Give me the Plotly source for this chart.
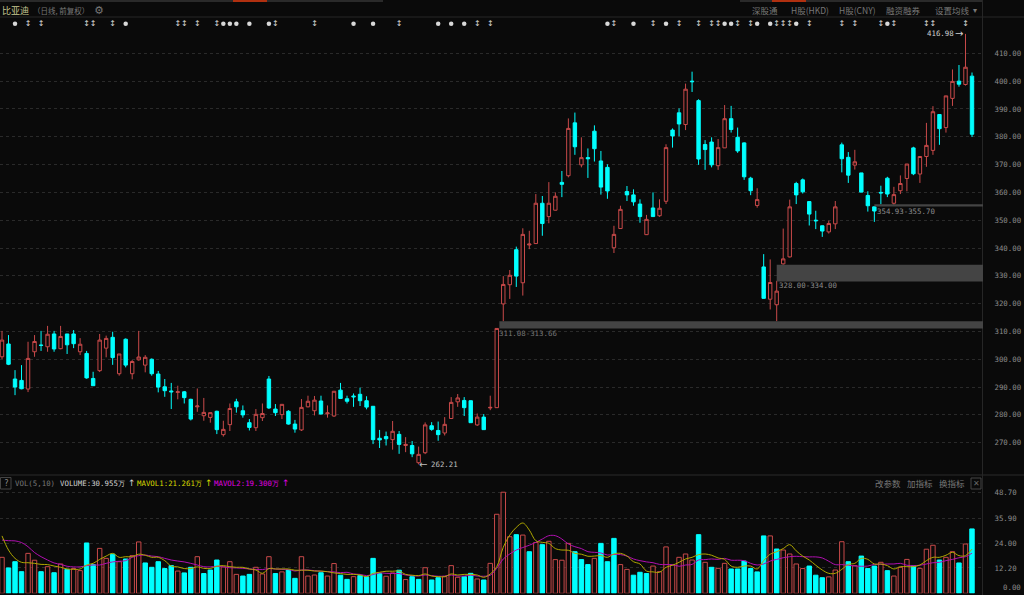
import plotly.graph_objects as go

opens = [300.9,305.5,292.9,292.4,289.3,302.7,305.1,304.5,309.1,303.8,309.1,309.1,302.7,302.1,293.1,295.9,304.0,307.9,294.8,307.2,
294.8,299.8,297.9,300.0,294.7,290.1,288.6,288.1,288.3,285.6,282.9,279.7,279.1,281.3,272.9,276.5,284.7,281.5,277.2,275.4,
279.0,292.9,282.1,280.1,281.3,276.7,274.6,282.9,281.5,285.0,280.4,279.6,288.9,285.8,286.8,287.4,285.1,283.1,271.6,272.2,
271.1,273.0,269.0,269.0,262.8,266.4,276.1,274.4,273.5,278.7,284.7,285.2,285.1,276.4,279.2,282.5,282.6,319.9,326.8,339.4,
327.5,341.1,341.6,356.1,351.3,353.6,363.6,366.0,385.0,369.9,372.5,382.0,371.3,369.0,340.1,347.0,360.3,359.1,355.8,344.8,
354.4,351.6,356.8,382.4,388.6,384.4,400.0,393.0,377.2,378.1,369.6,376.0,386.5,379.8,377.8,365.1,355.3,333.2,321.6,319.6,
334.3,336.8,363.2,364.5,356.7,350.0,348.0,345.8,348.7,377.1,372.6,369.8,367.0,358.9,354.8,360.0,365.1,356.1,360.6,365.0,
376.0,366.6,372.9,375.1,388.0,383.3,393.8,400.0,398.8,401.8]
highs = [310.2,308.7,296.1,297.9,306.3,308.7,310.2,312.0,310.2,312.0,309.1,310.5,307.6,303.0,295.5,309.1,308.5,309.9,301.9,307.5,
299.7,310.2,301.5,300.3,295.8,292.9,291.5,290.5,288.6,285.8,289.5,286.1,280.9,281.5,277.9,284.1,285.8,283.4,278.5,282.1,
284.1,294.0,283.9,283.8,281.7,278.2,285.7,286.9,286.8,286.9,283.4,288.6,291.5,286.9,287.7,289.8,286.7,283.2,274.6,274.0,
277.8,274.2,272.0,270.6,268.6,277.3,277.4,277.6,279.2,286.4,287.5,286.4,285.2,280.5,280.3,286.9,311.1,329.9,332.1,340.5,
347.1,346.2,359.4,358.7,363.7,360.0,367.7,386.6,388.7,379.8,375.8,384.1,374.9,370.1,348.0,355.2,362.3,361.1,357.5,351.9,
360.0,357.5,377.3,383.0,390.2,399.1,403.4,393.5,378.8,379.8,379.2,391.4,391.1,383.3,378.0,365.6,361.5,337.8,335.9,328.2,
347.0,357.4,363.8,365.0,356.9,353.4,348.1,349.8,356.9,377.9,374.5,375.3,367.0,360.4,355.1,362.4,365.6,362.0,366.1,370.2,
376.4,373.0,385.0,391.0,388.1,394.7,404.2,405.8,416.98,403.1]
lows = [300.1,297.9,287.1,289.2,288.2,300.9,303.0,302.7,302.7,303.6,301.9,304.0,301.5,293.0,290.4,295.4,300.7,298.0,294.1,297.1,
292.8,299.5,295.3,294.1,288.1,286.5,282.1,285.6,284.1,278.0,281.1,277.9,277.2,273.1,272.2,274.2,280.8,279.0,274.4,274.2,
277.8,282.1,279.6,278.5,276.5,273.6,274.2,282.7,279.8,280.2,279.0,279.3,285.7,284.1,282.9,283.2,282.0,269.5,268.1,269.0,
267.5,266.0,266.6,264.8,262.21,265.9,274.3,270.7,272.6,278.5,282.9,279.6,277.1,276.0,274.6,281.7,282.5,313.66,321.7,326.0,
322.9,339.6,341.5,344.4,348.9,353.5,358.3,365.4,373.5,369.0,365.2,371.1,359.2,357.7,338.2,347.0,356.9,355.2,349.1,344.7,
351.2,351.2,355.8,376.1,380.2,382.4,396.1,369.9,368.1,369.0,368.1,376.0,381.5,374.2,364.5,359.0,354.5,321.8,317.9,313.7,
334.0,336.6,355.8,359.6,348.1,346.8,344.0,345.2,346.8,367.2,363.4,368.2,360.0,353.1,349.4,355.7,358.3,355.4,359.4,360.4,
366.2,363.4,369.2,373.5,377.1,381.5,391.1,398.0,398.4,379.9]
closes = [306.9,298.2,290.0,289.4,300.3,306.4,305.0,309.0,303.7,308.2,305.2,305.6,305.4,293.3,290.5,306.9,307.5,300.6,301.9,297.9,
299.2,300.8,300.7,294.8,290.0,288.7,288.3,288.3,286.2,278.5,283.2,280.9,280.8,274.7,274.8,282.3,282.9,280.0,275.5,280.2,
280.5,282.5,280.8,283.8,276.7,274.9,282.7,284.9,285.3,280.3,280.7,288.5,285.9,284.9,286.5,285.1,282.8,271.1,271.0,271.4,
274.1,269.4,269.4,266.0,265.8,276.4,274.8,272.9,276.6,284.5,286.1,282.6,277.2,279.2,274.7,282.7,311.08,326.9,330.2,329.9,
344.9,341.4,356.1,348.8,356.1,358.6,362.9,383.0,376.4,372.5,372.1,375.7,361.9,360.5,344.9,353.9,359.1,356.6,351.3,350.3,
351.3,354.3,376.1,380.3,384.6,397.1,399.8,372.0,375.4,369.9,376.1,386.5,382.6,374.9,365.6,360.6,357.4,321.9,327.6,324.5,
336.1,354.8,359.1,360.2,352.2,349.8,346.1,348.8,354.8,372.1,366.2,371.0,360.1,355.2,353.3,359.8,359.4,359.2,363.2,370.2,
366.7,372.9,376.9,389.0,382.9,394.7,399.9,398.9,405.0,380.9]

volumes = [17.3,12.2,15.2,10.4,19.2,15.9,10.4,12.8,9.9,14.1,11.5,11.9,10.9,24.2,13.8,21.6,16.8,18.8,15.2,16.5,
18.1,24.7,14.6,12.5,15.2,11.9,13.3,10.7,9.8,12.5,17.6,9.5,11.2,16.0,12.7,15.2,9.1,8.3,9.1,12.5,
9.3,17.6,9.5,10.3,11.2,7.2,17.6,8.3,8.8,9.9,8.3,14.3,8.7,6.7,8.0,8.5,7.9,16.8,9.5,8.2,
9.8,11.1,6.6,8.0,6.7,12.3,6.4,7.5,8.0,13.3,7.7,8.0,9.6,6.9,6.4,14.4,38.0,48.6,27.2,28.2,
28.0,20.0,24.4,23.4,25.0,16.2,15.9,24.0,20.0,16.2,13.8,16.8,24.0,15.2,26.4,13.8,11.5,8.7,10.1,9.5,
13.1,10.4,22.3,13.6,17.3,18.9,16.0,28.2,14.9,12.5,12.0,14.4,11.7,11.7,15.5,11.9,10.3,27.6,27.6,21.3,
20.8,18.9,14.1,11.9,13.1,8.7,7.5,7.9,11.2,24.8,15.2,13.3,17.9,11.9,13.1,14.9,10.9,8.3,12.5,16.3,
13.1,12.0,21.2,23.1,16.0,17.3,20.0,14.6,23.7,30.955]
vol_color = [
 'r','c','c','c','r','r','c','r','c','r','c','r','r','c','c','r','r','c','r','c',
 'r','r','c','c','c','c','c','r','c','c','r','c','c','c','r','r','r','c','c','r',
 'r','r','c','r','c','c','r','r','r','c','r','r','c','c','r','c','c','c','c','r',
 'r','c','r','c','c','r','c','c','r','r','r','c','c','r','c','r','r','r','r','c',
 'r','c','r','c','r','r','r','r','c','c','c','r','c','c','c','r','r','c','c','c',
 'r','r','r','r','r','r','r','c','r','c','r','r','c','c','c','c','c','c','r','c',
 'r','r','r','r','c','c','c','r','r','r','c','r','c','c','c','r','c','r','r','r',
 'c','r','r','r','c','r','r','c','r','c']

mavol1 = [27.6,20.8,16.8,14.9,14.7,14.4,13.9,13.8,13.1,12.5,11.7,11.5,11.7,13.6,14.4,16.3,17.9,19.2,17.3,17.6,
17.6,18.8,18.3,17.3,17.3,15.7,13.1,12.7,11.9,11.9,12.7,12.0,11.9,13.0,13.3,12.8,12.5,12.5,11.7,11.2,
9.6,11.9,11.7,11.7,11.7,11.1,11.1,11.1,10.7,10.7,10.4,9.8,9.5,
9.1,9.1,8.8,8.0,9.6,10.1,10.6,10.6,10.7,9.1,8.7,8.5,9.3,8.3,8.0,8.0,9.3,8.8,9.1,9.1,8.8,7.7,9.3,
12.8,22.1,28.0,31.7,33.8,30.4,25.3,24.5,24.0,21.5,20.8,20.7,19.2,18.8,17.8,17.9,18.1,17.3,18.9,19.2,17.9,15.2,14.1,10.7,10.3,10.1,12.5,13.5,14.9,
16.5,17.3,18.6,18.9,18.3,17.0,16.3,13.1,12.5,13.1,13.1,11.7,15.7,18.8,20.0,21.5,23.4,20.4,17.9,16.0,13.5,11.2,9.6,9.6,11.5,13.9,14.4,16.8,16.3,14.1,14.1,13.3,11.7,12.8,12.8,12.8,13.6,15.7,17.3,17.3,18.3,19.7,18.1,18.1,21.261]
mavol2 = [25.6,25.3,25.2,24.4,22.4,19.6,17.6,16.0,14.6,13.9,13.0,12.7,12.7,13.3,13.6,13.6,14.4,15.1,15.4,15.7,17.3,18.1,18.4,17.9,17.6,16.8,16.0,15.5,15.1,14.4,13.6,12.8,12.7,13.0,12.7,12.3,12.2,12.0,11.7,11.5,11.4,11.9,11.7,11.5,11.4,10.7,11.2,11.2,10.9,10.6,10.4,10.3,9.9,
10.1,9.3,9.1,8.5,9.0,9.8,9.6,9.5,9.5,8.8,8.5,8.3,8.8,8.5,8.2,8.3,8.8,8.3,8.3,8.7,8.3,8.2,8.7,12.0,16.5,18.9,20.8,22.0,23.1,24.5,26.1,27.7,27.7,26.1,23.7,22.4,21.5,20.0,19.7,19.4,18.4,18.7,18.6,17.9,16.5,15.7,15.1,14.7,13.9,13.8,13.8,13.0,
13.6,13.9,16.0,16.2,16.5,16.3,16.8,15.9,15.9,15.7,14.4,13.6,14.1,15.5,16.3,17.1,17.6,17.8,17.6,17.5,17.5,17.0,15.4,13.8,13.8,13.5,13.1,13.0,13.1,13.9,13.9,14.1,14.1,14.4,13.5,13.3,13.5,14.1,14.7,14.9,15.7,16.3,17.1,17.6,19.3]

sun_marks = [2,19,34,35,36,38,41,54,57,67,69,71,93,97,102,111,112,116,118,122,136]
arrow_marks = [4,6,13,14,17,27,28,30,33,42,48,61,73,75,94,100,104,107,109,110,113,115,119,120,121,124,129,131,135,137,142,143,148]

price_ticks = [410,400,390,380,370,360,350,340,330,320,310,300,290,280,270]
vol_ticks = [48.7,35.9,24.0,12.2]
W, H = 1024, 595
RED = "#c94a4a"; CYAN = "#00ffff"; BG = "#0a0a0a"; GRID = "#2a2a2a"; TXT = "#8a8a8a"
x = list(range(len(opens)))

def px(xp): return xp / W
def py(yp): return 1 - yp / H

fig = go.Figure()
fig.add_trace(go.Candlestick(x=x, open=opens, high=highs, low=lows, close=closes, xaxis="x", yaxis="y",
    increasing=dict(line=dict(color=RED, width=1), fillcolor=BG),
    decreasing=dict(line=dict(color=CYAN, width=1), fillcolor=CYAN),
    whiskerwidth=0, hoverinfo="skip"))
top_y = 420.6
fig.add_trace(go.Scatter(x=sun_marks, y=[top_y]*len(sun_marks), mode="markers", xaxis="x", yaxis="y",
    marker=dict(symbol="circle", size=4.5, color="#d8d8d8"), hoverinfo="skip"))
fig.add_trace(go.Scatter(x=arrow_marks, y=[top_y]*len(arrow_marks), mode="text", text=["↕"]*len(arrow_marks),
    textposition="middle center", textfont=dict(size=8, color="#d8d8d8", family="DejaVu Sans"), xaxis="x", yaxis="y", hoverinfo="skip"))
fig.add_trace(go.Bar(x=x, y=volumes, xaxis="x2", yaxis="y2", width=0.68,
    marker=dict(color=[CYAN if c == "c" else BG for c in vol_color],
                line=dict(color=[CYAN if c == "c" else RED for c in vol_color], width=1)), hoverinfo="skip"))
fig.add_trace(go.Scatter(x=x, y=mavol2, mode="lines", xaxis="x2", yaxis="y2", line=dict(color="#b010b0", width=1, shape="spline"), hoverinfo="skip"))
fig.add_trace(go.Scatter(x=x, y=mavol1, mode="lines", xaxis="x2", yaxis="y2", line=dict(color="#b0a800", width=1, shape="spline"), hoverinfo="skip"))

shapes = []
def hline(yp, x0=0, x1=W, col="#262626"):
    shapes.append(dict(type="line", xref="paper", yref="paper", x0=px(x0), x1=px(x1), y0=py(yp), y1=py(yp), line=dict(color=col, width=1)))
hline(17); hline(475, col="#2a2a2a")
shapes.append(dict(type="line", xref="paper", yref="paper", x0=px(982.5), x1=px(982.5), y0=0, y1=py(0), line=dict(color="#262626", width=1)))
for x0, x1, col in [(0, 383, "#2a2a2a"), (740, 982, "#2a2a2a"), (233, 267, "#b03010"), (772, 806, "#b03010")]:
    shapes.append(dict(type="rect", xref="paper", yref="paper", x0=px(x0), x1=px(x1), y0=py(2), y1=py(0), fillcolor=col, line_width=0))
for i0, lo, hi in [(76.4, 311.08, 313.66), (119, 328.0, 334.0), (134, 354.93, 355.7)]:
    shapes.append(dict(type="rect", xref="x", yref="y", x0=i0, x1=150.69, y0=lo, y1=hi, fillcolor="#444444", line_width=0, layer="above"))
shapes.append(dict(type="rect", xref="paper", yref="paper", x0=px(0.5), x1=px(11), y0=py(489), y1=py(477.5), line=dict(color="#444", width=1)))
shapes.append(dict(type="rect", xref="paper", yref="paper", x0=px(971), x1=px(981), y0=py(489), y1=py(478), line=dict(color="#444", width=1)))

def note(t, xp, yp, color=TXT, size=7.4, fam="DejaVu Sans Mono", anchor="left"):
    return dict(text=t, x=px(xp), y=py(yp), xref="paper", yref="paper", showarrow=False, xanchor=anchor, yanchor="middle",
                font=dict(color=color, size=size, family=fam), borderpad=0, borderwidth=0)
CJK = "Noto Sans CJK SC"
anns = [
    note("比亚迪", 2, 10, "#c8c890", 9, CJK),
    note("（日线, 前复权）", 33, 10, "#777", 7.5, CJK),
    note("⚙", 94, 10, "#777", 11, "DejaVu Sans"),
    note("深股通", 752, 10, "#777", 8.5, CJK),
    note("H股(HKD)", 791, 10, "#777", 8.5, CJK),
    note("H股(CNY)", 839, 10, "#777", 8.5, CJK),
    note("融资融券", 886, 10, "#777", 8.5, CJK),
    note("设置均线", 935, 10, "#777", 8.5, CJK),
    note("▾", 973, 10, "#777", 8, "DejaVu Sans"),
    note("416.98", 927, 33, "#d0d0d0"),
    note("→", 955, 33, "#d0d0d0", 10, "DejaVu Sans"),
    note("←", 419, 464, "#c0c0c0", 10, "DejaVu Sans"),
    note("262.21", 431, 464, "#c0c0c0"),
    note("311.08-313.66", 499, 333, "#777"),
    note("328.00-334.00", 779, 285, "#8a8a8a"),
    note("354.93-355.70", 877, 211, "#8a8a8a"),
    note("?", 3.5, 483, "#888", 8),
    note("VOL(5,10)", 15, 483, "#777"),
    note("VOLUME:30.955万", 60, 483, "#d0d0d0"),
    note("↑", 128, 483, "#d0d0d0", 9, "DejaVu Sans"),
    note("MAVOL1:21.261万", 137, 483, "#d8d800"),
    note("↑", 205, 483, "#d8d800", 9, "DejaVu Sans"),
    note("MAVOL2:19.300万", 214, 483, "#e000e0"),
    note("↑", 282, 483, "#e000e0", 9, "DejaVu Sans"),
    note("改参数", 875, 483, "#777", 8.5, CJK),
    note("加指标", 907, 483, "#777", 8.5, CJK),
    note("换指标", 939, 483, "#777", 8.5, CJK),
    note("✕", 973, 483, "#666", 8, "DejaVu Sans"),
    note("0.00", 1003, 587.5, TXT),
]
xrange = [-0.307, 150.69]
axfont = dict(family="DejaVu Sans Mono", size=7.4, color=TXT)
fig.update_layout(
    width=W, height=H, autosize=False, margin=dict(l=0, r=0, t=0, b=0), showlegend=False,
    paper_bgcolor=BG, plot_bgcolor=BG, shapes=shapes, annotations=anns, boxgap=0.25, bargap=0.25,
    xaxis=dict(domain=[0, 983/W], range=xrange, visible=False, rangeslider=dict(visible=False), anchor="y"),
    xaxis2=dict(domain=[0, 983/W], range=xrange, visible=False, anchor="y2"),
    yaxis=dict(domain=[(H-475)/H, (H-18)/H], range=[258.39, 422.7], side="right", anchor="free", position=983/W,
               tickvals=price_ticks, tickformat=".2f", tickfont=axfont, ticklen=9, ticks="outside", tickcolor=BG,
               showgrid=True, gridcolor=GRID, griddash="dot", gridwidth=1, zeroline=False, showline=False),
    yaxis2=dict(domain=[1.7/H, (H-476)/H], range=[0, 56.4], side="right", anchor="free", position=983/W,
                tickvals=vol_ticks, tickformat=".2f", tickfont=axfont, ticklen=9, ticks="outside", tickcolor=BG,
                showgrid=True, gridcolor=GRID, griddash="dot", gridwidth=1, zeroline=False, showline=False),
)
fig.write_html("out.html", config=dict(displayModeBar=False), post_script="document.body.style.margin='0';document.body.style.background='#0a0a0a';")
